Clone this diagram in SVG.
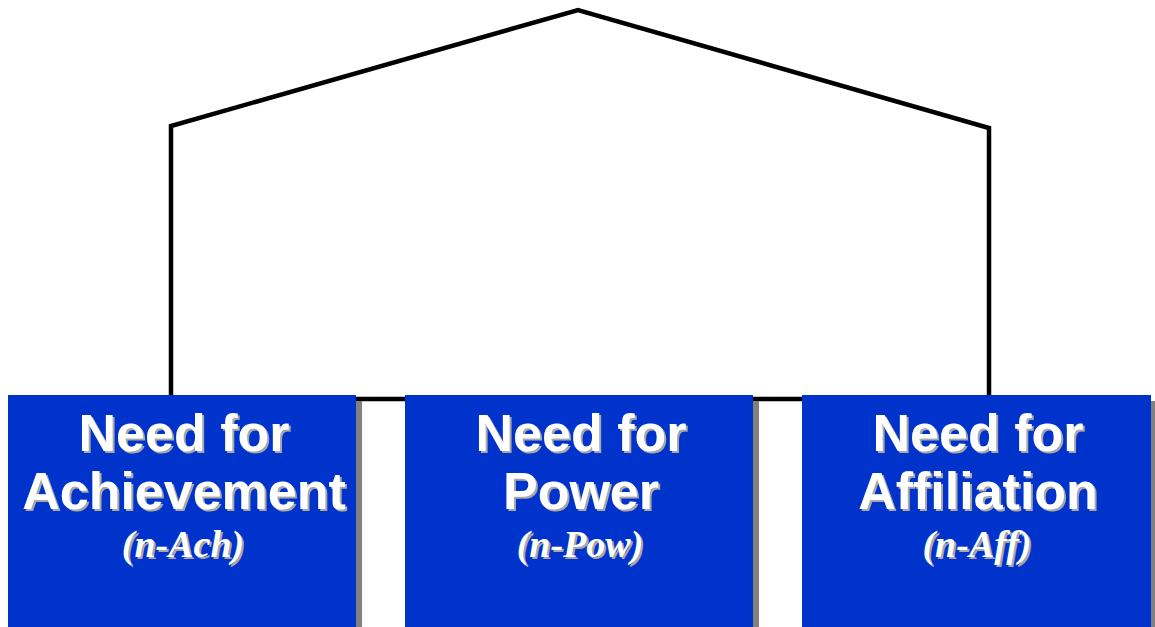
<svg xmlns="http://www.w3.org/2000/svg" width="1155" height="627" viewBox="0 0 1155 627">
<style>
.box{fill:#0033CC}
.shadow{fill:#808080}
.t{font-family:"Liberation Sans",Arial,sans-serif;font-weight:bold;font-size:52px;text-anchor:middle}
.s{font-family:"Liberation Serif","Times New Roman",serif;font-weight:bold;font-style:italic;font-size:38px;text-anchor:middle}
.w{fill:#FFFFFF}
.g{fill:#A8A8A8}
.line{fill:none;stroke:#000000;stroke-width:4.5;stroke-linejoin:miter}
</style>
<rect width="1155" height="627" fill="#FFFFFF"/>
<g id="connectors">
<polyline class="line" points="171,397 171,126 578,10 989,128 989,397"/>
<line class="line" x1="171" y1="399" x2="989" y2="399"/>
</g>
<g id="node-ach">
<rect class="shadow" x="14" y="401" width="348" height="232"/>
<rect class="box" x="8" y="395" width="348" height="232"/>
<text class="t g" x="186" y="453">Need for</text>
<text class="t w" x="184" y="451">Need for</text>
<text class="t g" x="186" y="511">Achievement</text>
<text class="t w" x="184" y="509">Achievement</text>
<text class="s g" x="185" y="559">(n-Ach)</text>
<text class="s w" x="183" y="557">(n-Ach)</text>
</g>
<g id="node-pow">
<rect class="shadow" x="411" y="401" width="348" height="232"/>
<rect class="box" x="405" y="395" width="348" height="232"/>
<text class="t g" x="583" y="453">Need for</text>
<text class="t w" x="581" y="451">Need for</text>
<text class="t g" x="583" y="511">Power</text>
<text class="t w" x="581" y="509">Power</text>
<text class="s g" x="582" y="559">(n-Pow)</text>
<text class="s w" x="580" y="557">(n-Pow)</text>
</g>
<g id="node-aff">
<rect class="shadow" x="808" y="401" width="348" height="232"/>
<rect class="box" x="802" y="395" width="349" height="232"/>
<text class="t g" x="980" y="453">Need for</text>
<text class="t w" x="978" y="451">Need for</text>
<text class="t g" x="980" y="511">Affiliation</text>
<text class="t w" x="978" y="509">Affiliation</text>
<text class="s g" x="979" y="559">(n-Aff)</text>
<text class="s w" x="977" y="557">(n-Aff)</text>
</g>
</svg>
